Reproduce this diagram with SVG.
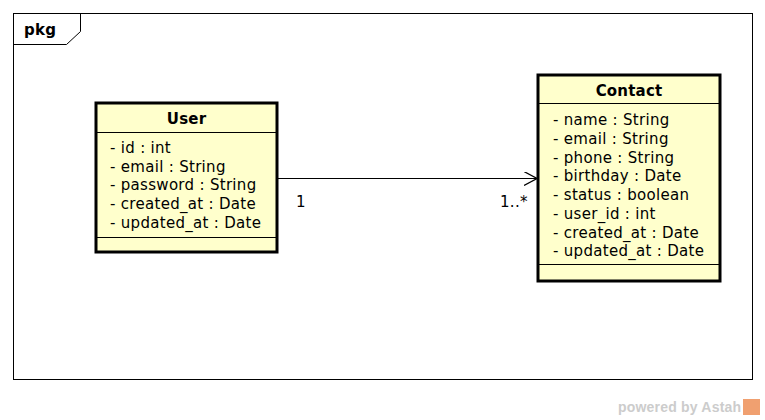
<svg xmlns="http://www.w3.org/2000/svg" width="765" height="420" viewBox="0 0 765 420">
  <style>
    text { font-family: "DejaVu Sans", "Noto Sans", sans-serif; font-size: 15px; letter-spacing: 0.3px; fill: #000; }
    .title { font-weight: bold; text-anchor: middle; letter-spacing: 0.2px; }
    .box { fill: #ffffcc; stroke: #000; stroke-width: 3; }
    .sep { stroke: #000; stroke-width: 1; }
    .frame { fill: #fff; stroke: #000; stroke-width: 1; }
    .wm { font-family: "Liberation Sans", Arial, sans-serif; font-weight: bold; font-size: 14px; letter-spacing: 0.2px; fill: #cccccc; }
  </style>
  <defs>
    <marker id="open" viewBox="0 0 14 14" refX="13" refY="7" markerWidth="14" markerHeight="14" markerUnits="userSpaceOnUse" orient="auto">
      <path d="M0,0 L13,7 L0,14" fill="none" stroke="#000" stroke-width="1.2"/>
    </marker>
  </defs>
  <rect width="765" height="420" fill="#fff"/>

  <!-- package frame -->
  <g id="pkg">
    <rect class="frame" x="13.5" y="13.5" width="739" height="366"/>
    <path d="M13.5,44.5 L66.5,44.5 L80.5,31.5 L80.5,13.5" fill="none" stroke="#000" stroke-width="1"/>
    <text x="24" y="35" style="font-weight:bold">pkg</text>
  </g>

  <!-- connectors -->
  <g id="connectors">
    <line x1="278" y1="178.5" x2="537" y2="178.5" stroke="#000" stroke-width="1" marker-end="url(#open)"/>
    <text x="296" y="207">1</text>
    <text x="500" y="207">1..*</text>
  </g>

  <!-- User class -->
  <g id="User">
    <rect class="box" x="96" y="103" width="181" height="149"/>
    <line class="sep" x1="96" y1="132.5" x2="277" y2="132.5"/>
    <line class="sep" x1="96" y1="237.5" x2="277" y2="237.5"/>
    <text class="title" x="186.5" y="124">User</text>
    <text x="110" y="153">- id : int</text>
    <text x="110" y="172">- email : String</text>
    <text x="110" y="190">- password : String</text>
    <text x="110" y="209">- created_at : Date</text>
    <text x="110" y="228">- updated_at : Date</text>
  </g>

  <!-- Contact class -->
  <g id="Contact">
    <rect class="box" x="538" y="75" width="182" height="206"/>
    <line class="sep" x1="538" y1="103.5" x2="720" y2="103.5"/>
    <line class="sep" x1="538" y1="264.5" x2="720" y2="264.5"/>
    <text class="title" x="629" y="96">Contact</text>
    <text x="553" y="125">- name : String</text>
    <text x="553" y="144">- email : String</text>
    <text x="553" y="163">- phone : String</text>
    <text x="553" y="181">- birthday : Date</text>
    <text x="553" y="200">- status : boolean</text>
    <text x="553" y="219">- user_id : int</text>
    <text x="553" y="238">- created_at : Date</text>
    <text x="553" y="256">- updated_at : Date</text>
  </g>

  <!-- footer -->
  <g id="footer">
    <text class="wm" x="618" y="412">powered by Astah</text>
    <rect x="743" y="399" width="17" height="16" fill="#f0a070"/>
  </g>
</svg>
